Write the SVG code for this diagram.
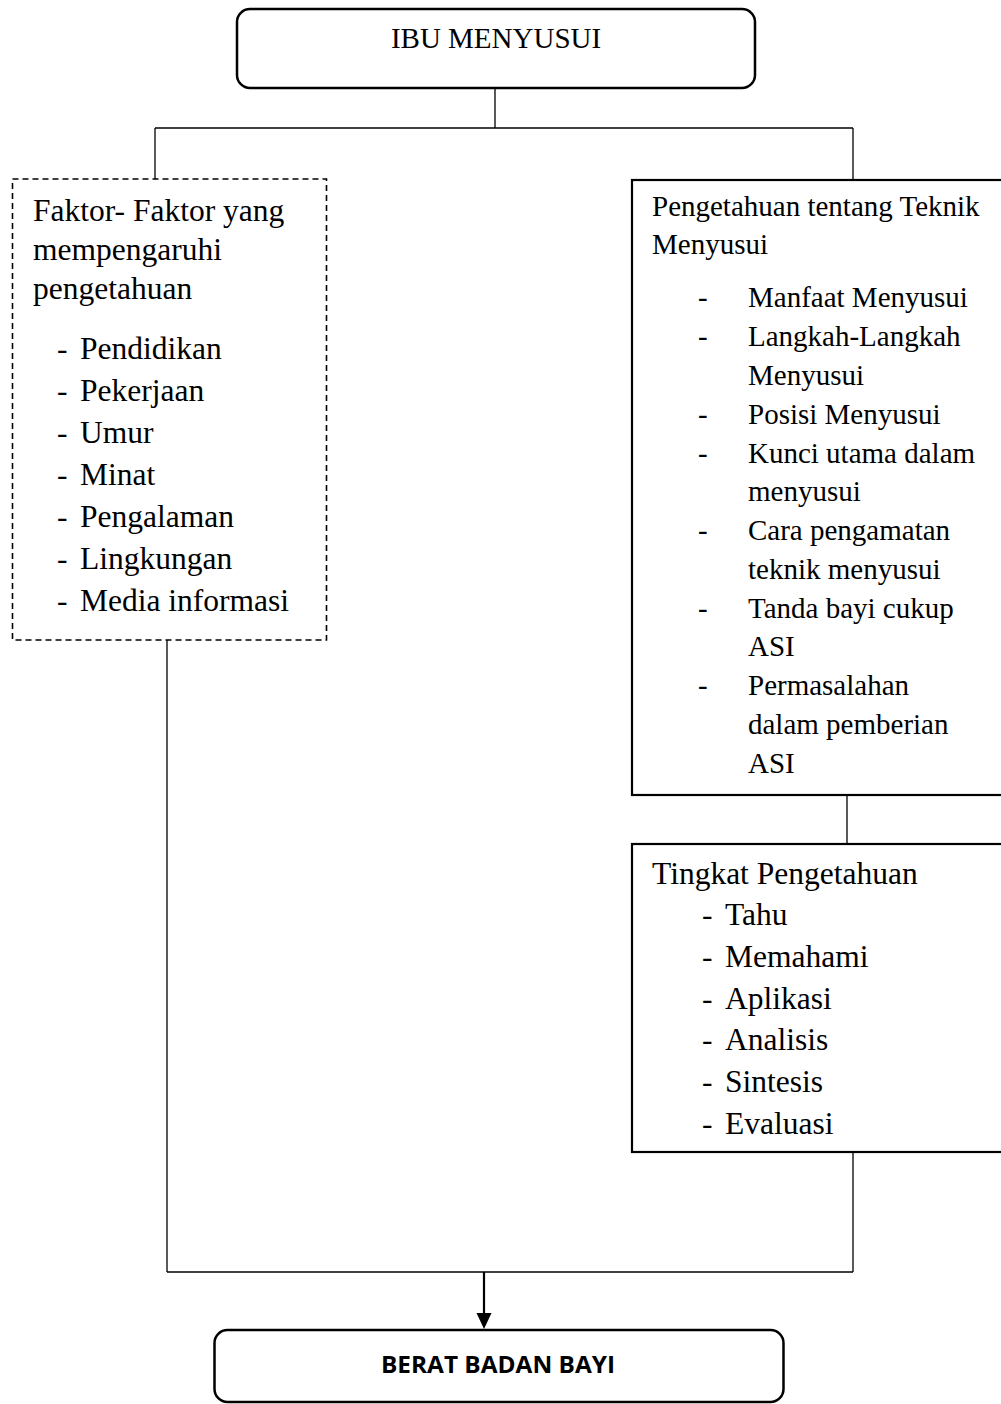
<svg xmlns="http://www.w3.org/2000/svg" width="1001" height="1404" viewBox="0 0 1001 1404">
<defs>
<style>
.t{font-family:"Liberation Serif","Times New Roman",serif;fill:#000}
.l{font-size:31.5px}
.r{font-size:29px}
.box{fill:#fff;stroke:#000;stroke-width:2.2}
.c{fill:none;stroke:#000;stroke-width:1.3}
</style>
</defs>
<rect width="1001" height="1404" fill="#fff"/>
<g id="connectors">
<line class="c" x1="495" y1="88" x2="495" y2="128"/>
<line class="c" x1="155" y1="128" x2="853" y2="128"/>
<line class="c" x1="155" y1="128" x2="155" y2="179"/>
<line class="c" x1="853" y1="128" x2="853" y2="180"/>
<line class="c" x1="167" y1="640" x2="167" y2="1272"/>
<line class="c" x1="847" y1="795" x2="847" y2="844"/>
<line class="c" x1="853" y1="1152" x2="853" y2="1272"/>
<line class="c" x1="167" y1="1272" x2="853" y2="1272"/>
<line x1="484" y1="1272" x2="484" y2="1315" stroke="#000" stroke-width="2.2"/>
<path d="M476.5,1313 L491.5,1313 L484,1329 Z" fill="#000"/>
</g>
<g id="ibu-menyusui">
<rect x="237" y="9" width="518" height="79" rx="13" ry="13" fill="#fff" stroke="#000" stroke-width="2.5"/>
<text class="t" x="496" y="48" font-size="29" text-anchor="middle">IBU MENYUSUI</text>
</g>
<g id="faktor">
<rect x="12.5" y="179" width="314" height="461" fill="#fff" stroke="#000" stroke-width="1.6" stroke-dasharray="6,4"/>
<text class="t l" x="33" y="221">Faktor- Faktor yang</text>
<text class="t l" x="33" y="260">mempengaruhi</text>
<text class="t l" x="33" y="299">pengetahuan</text>
<g class="t l">
<text x="57" y="359">-</text><text x="80" y="359">Pendidikan</text>
<text x="57" y="401">-</text><text x="80" y="401">Pekerjaan</text>
<text x="57" y="443">-</text><text x="80" y="443">Umur</text>
<text x="57" y="485">-</text><text x="80" y="485">Minat</text>
<text x="57" y="527">-</text><text x="80" y="527">Pengalaman</text>
<text x="57" y="569">-</text><text x="80" y="569">Lingkungan</text>
<text x="57" y="611">-</text><text x="80" y="611">Media informasi</text>
</g>
</g>
<g id="teknik-menyusui">
<rect class="box" x="632" y="180" width="380" height="615"/>
<g class="t r">
<text x="652" y="216">Pengetahuan tentang Teknik</text>
<text x="652" y="254">Menyusui</text>
<text x="698" y="307">-</text><text x="748" y="307">Manfaat Menyusui</text>
<text x="698" y="346">-</text><text x="748" y="346">Langkah-Langkah</text>
<text x="748" y="385">Menyusui</text>
<text x="698" y="424">-</text><text x="748" y="424">Posisi Menyusui</text>
<text x="698" y="463">-</text><text x="748" y="463">Kunci utama dalam</text>
<text x="748" y="501">menyusui</text>
<text x="698" y="540">-</text><text x="748" y="540">Cara pengamatan</text>
<text x="748" y="579">teknik menyusui</text>
<text x="698" y="618">-</text><text x="748" y="618">Tanda bayi cukup</text>
<text x="748" y="656">ASI</text>
<text x="698" y="695">-</text><text x="748" y="695">Permasalahan</text>
<text x="748" y="734">dalam pemberian</text>
<text x="748" y="773">ASI</text>
</g>
</g>
<g id="tingkat-pengetahuan">
<rect class="box" x="632" y="844" width="380" height="308"/>
<g class="t l">
<text x="652" y="884">Tingkat Pengetahuan</text>
<text x="702" y="925">-</text><text x="725" y="925">Tahu</text>
<text x="702" y="967">-</text><text x="725" y="967">Memahami</text>
<text x="702" y="1009">-</text><text x="725" y="1009">Aplikasi</text>
<text x="702" y="1050">-</text><text x="725" y="1050">Analisis</text>
<text x="702" y="1092">-</text><text x="725" y="1092">Sintesis</text>
<text x="702" y="1134">-</text><text x="725" y="1134">Evaluasi</text>
</g>
</g>
<g id="berat-badan-bayi">
<rect x="214.5" y="1330" width="569" height="72" rx="13" ry="13" fill="#fff" stroke="#000" stroke-width="2.5"/>
<text x="381" y="1373" font-family="Open Sans, Liberation Sans, sans-serif" font-weight="bold" font-size="24" textLength="234" lengthAdjust="spacingAndGlyphs">BERAT BADAN BAYI</text>
</g>
</svg>
